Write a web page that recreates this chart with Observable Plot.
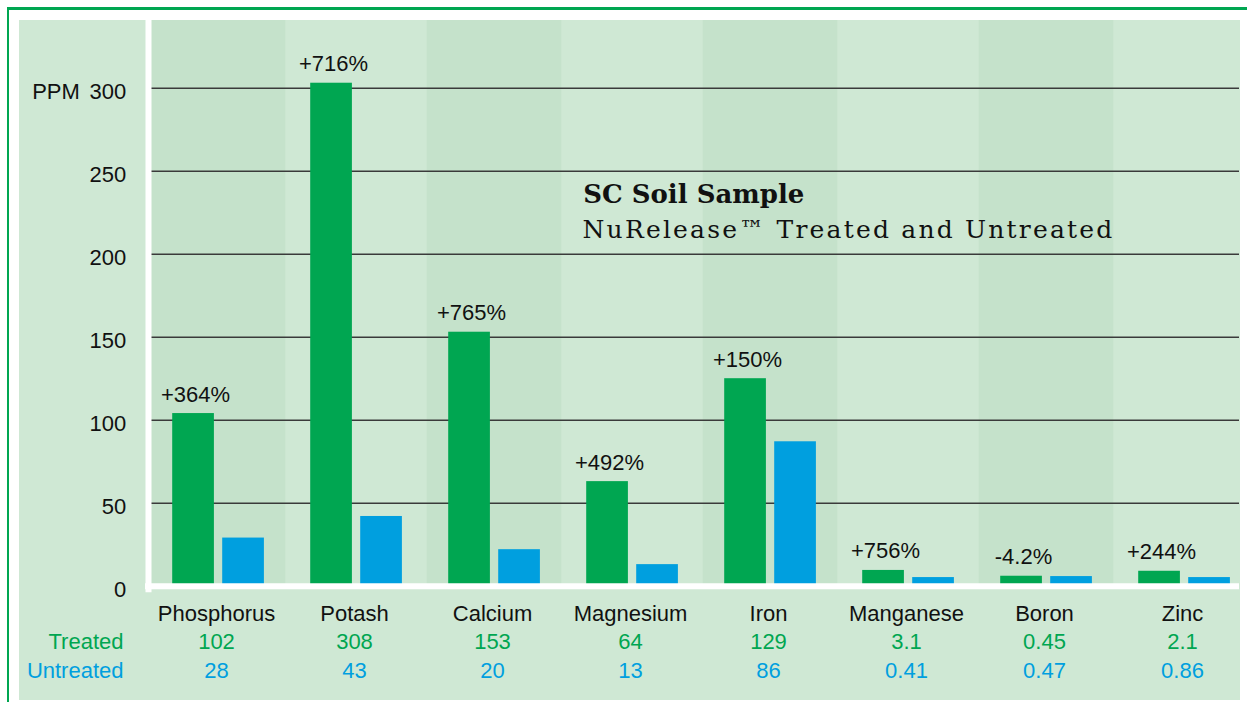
<!DOCTYPE html>
<html>
<head>
<meta charset="utf-8">
<script src="https://cdn.jsdelivr.net/npm/d3@7"></script>
<script src="https://cdn.jsdelivr.net/npm/@observablehq/plot@0.6"></script>
<style>
  html, body { margin: 0; padding: 0; background: #ffffff; }
  #wrap { position: relative; width: 1247px; height: 702px; overflow: hidden; }
  #border { position: absolute; left: 7px; top: 7px; width: 1250px; height: 700px;
            border-top: 3px solid #00a651; border-left: 2px solid #00a651; }
  #panel { position: absolute; left: 19px; top: 20px; width: 1221px; height: 680px; background: #cfe8d4; }
  #chart { position: absolute; left: 0; top: 0; }
  #chart svg text { letter-spacing: 0px; }
  #chart svg g[font-family*="Serif"] text { letter-spacing: 2.2px; }
  #chart svg g[font-family*="Serif"][font-weight="bold"] text { letter-spacing: 0px; }
</style>
</head>
<body>
<div id="wrap">
  <div id="border"></div>
  <div id="panel"></div>
  <div id="chart"></div>
</div>
<script>
// ---- data ----
const categories = ["Phosphorus", "Potash", "Calcium", "Magnesium", "Iron", "Manganese", "Boron", "Zinc"];
// bar heights as drawn in the picture (PPM)
const treated   = [104, 303, 153, 63, 125, 9.5, 6, 9];
const untreated = [29, 42, 22, 13, 87, 5.2, 5.8, 5.2];
// table values printed under the chart
const treatedText   = ["102", "308", "153", "64", "129", "3.1", "0.45", "2.1"];
const untreatedText = ["28", "43", "20", "13", "86", "0.41", "0.47", "0.86"];
const changeText    = ["+364%", "+716%", "+765%", "+492%", "+150%", "+756%", "-4.2%", "+244%"];
const yTicks = [0, 50, 100, 150, 200, 250, 300];
const gridTicks = [50, 100, 150, 200, 250, 300];
const titleText = "SC Soil Sample";
const subtitleText = "NuRelease\u2122 Treated and Untreated";

const GREEN = "#00a651";
const BLUE = "#009fdf";
const DARKBAND = "#c5e2cb";
const SANS = "'Liberation Sans', Arial, sans-serif";
const SERIF = "'DejaVu Serif', serif";

const rows = categories.map((c, i) => ({
  c, i, t: treated[i], u: untreated[i],
  tt: treatedText[i], ut: untreatedText[i], ch: changeText[i]
}));

const chart = Plot.plot({
  width: 1247,
  height: 702,
  marginTop: 20,
  marginBottom: 116.3,
  marginLeft: 151,
  marginRight: 7,
  style: { background: "transparent", fontFamily: SANS, fontSize: "22px", color: "#111" },
  x: { domain: categories, range: [147.8, 1254.5], padding: 0, axis: null },
  y: { domain: [0, 300], range: [585.7, 87.7], axis: null },
  marks: [
    // alternating category bands
    Plot.cell(rows.filter(d => d.i % 2 === 0), {
      x: "c", fill: DARKBAND, insetLeft: 1.7, insetRight: 1.7, insetTop: 0, insetBottom: 0, clip: true
    }),
    // grid
    Plot.ruleY(gridTicks, { stroke: "#3a3a3a", strokeWidth: 1.4, insetRight: 1 }),
    // bars
    Plot.barY(rows, { x: "c", y: "t", fill: GREEN, insetLeft: 23.2, insetRight: 73.1 }),
    Plot.barY(rows, { x: "c", y: "u", fill: BLUE, insetLeft: 73.2, insetRight: 23.1 }),
    // white axis lines
    Plot.ruleY([0], { stroke: "#ffffff", strokeWidth: 6, insetLeft: -6, insetRight: 1 }),
    Plot.frame({ anchor: "left", stroke: "#ffffff", strokeWidth: 6, dx: -3, insetBottom: -3 }),
    // percentage change labels
    Plot.text(rows, { x: "c", y: "t", text: "ch", dx: -23, dy: -12, lineAnchor: "bottom", fill: "#111" }),
    // y tick labels
    Plot.text(yTicks, { y: d => d, text: d => String(d), frameAnchor: "left", textAnchor: "end", dx: -25.3, dy: 11, lineAnchor: "bottom", fill: "#111" }),
    Plot.text([300], { y: d => d, text: () => "PPM", frameAnchor: "left", textAnchor: "start", dx: -119.3, dy: 11, lineAnchor: "bottom", fill: "#111" }),
    // category names and table
    Plot.text(rows, { x: "c", text: "c", frameAnchor: "bottom", dx: -2, dy: 34.3, lineAnchor: "bottom", fill: "#111" }),
    Plot.text(rows, { x: "c", text: "tt", frameAnchor: "bottom", dx: -2, dy: 62.6, lineAnchor: "bottom", fill: GREEN }),
    Plot.text(rows, { x: "c", text: "ut", frameAnchor: "bottom", dx: -2, dy: 91.6, lineAnchor: "bottom", fill: BLUE }),
    Plot.text(["Treated"], { text: d => d, frameAnchor: "bottom-left", dx: -28, dy: 62.6, textAnchor: "end", lineAnchor: "bottom", fill: GREEN }),
    Plot.text(["Untreated"], { text: d => d, frameAnchor: "bottom-left", dx: -28, dy: 91.6, textAnchor: "end", lineAnchor: "bottom", fill: BLUE }),
    // title
    Plot.text([titleText], { text: d => d, frameAnchor: "top-left", dx: 431.7, dy: 182.3, lineAnchor: "bottom", textAnchor: "start",
      fontFamily: SERIF, fontWeight: "bold", fontSize: 26, fill: "#111" }),
    Plot.text([subtitleText], { text: d => d, frameAnchor: "top-left", dx: 431, dy: 217.3, lineAnchor: "bottom", textAnchor: "start",
      fontFamily: SERIF, fontWeight: "normal", fontSize: 25, fill: "#111" })
  ]
});
document.getElementById("chart").appendChild(chart);
</script>
</body>
</html>
